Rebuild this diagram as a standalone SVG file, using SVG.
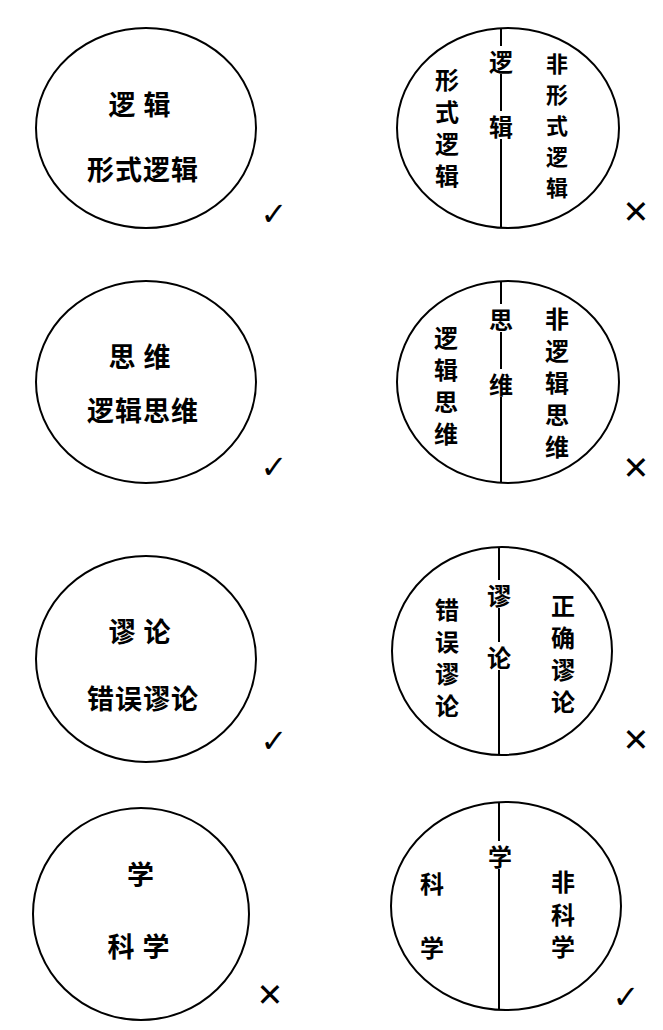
<svg xmlns="http://www.w3.org/2000/svg" width="663" height="1030" viewBox="0 0 663 1030">
<style>
.c{fill:none;stroke:#000;stroke-width:2}
.l{stroke:#000;stroke-width:2}
text{font-family:"Noto Sans CJK SC",sans-serif;font-weight:bold;font-size:24px;text-anchor:middle;dominant-baseline:central;fill:#000}
.s{font-size:22px}
.h{font-size:27px;letter-spacing:1px}
.m{font-family:"DejaVu Sans",sans-serif;font-weight:bold;font-size:32px}
.bg{fill:#fff}
</style>
<rect width="663" height="1030" fill="#fff"/>
<g id="n1"><ellipse class="c" cx="146" cy="128" rx="110" ry="100"/><text class="h" x="140" y="103">逻  辑</text><text class="h" x="143" y="168">形式逻辑</text><text class="m" x="274" y="214">✓</text></g>
<g id="n2"><ellipse class="c" cx="146" cy="382" rx="110" ry="101"/><text class="h" x="140" y="355">思  维</text><text class="h" x="143" y="409">逻辑思维</text><text class="m" x="274" y="467">✓</text></g>
<g id="n3"><ellipse class="c" cx="146" cy="659" rx="110" ry="103"/><text class="h" x="140" y="630">谬  论</text><text class="h" x="143" y="697">错误谬论</text><text class="m" x="274" y="741">✓</text></g>
<g id="n4"><ellipse class="c" cx="141" cy="914" rx="108" ry="106"/><text class="h" x="141" y="873">学</text><text class="h" x="139" y="945">科  学</text><text class="m" x="270" y="995">✕</text></g>
<g id="connectors">
<line class="l" x1="501" y1="28" x2="501" y2="228"/>
<line class="l" x1="501" y1="281" x2="501" y2="483"/>
<line class="l" x1="499" y1="548" x2="499" y2="755"/>
<line class="l" x1="499" y1="802" x2="499" y2="1010"/>
</g>
<g id="r1"><ellipse class="c" cx="508" cy="128" rx="111" ry="100"/>
<rect class="bg" x="489" y="46" width="24" height="28"/><rect class="bg" x="489" y="111" width="24" height="28"/>
<text x="501" y="60">逻</text><text x="501" y="125">辑</text>
<text x="447" y="78">形</text><text x="447" y="110">式</text><text x="447" y="142">逻</text><text x="447" y="174">辑</text>
<text class="s" x="557" y="62">非</text><text class="s" x="557" y="93">形</text><text class="s" x="557" y="124">式</text><text class="s" x="557" y="155">逻</text><text class="s" x="557" y="186">辑</text>
<text class="m" x="636" y="212">✕</text></g>
<g id="r2"><ellipse class="c" cx="508" cy="382" rx="111" ry="101"/>
<rect class="bg" x="489" y="304" width="24" height="28"/><rect class="bg" x="489" y="369" width="24" height="28"/>
<text x="501" y="318">思</text><text x="501" y="383">维</text>
<text x="446" y="336">逻</text><text x="446" y="368">辑</text><text x="446" y="400">思</text><text x="446" y="432">维</text>
<text x="557" y="317">非</text><text x="557" y="349">逻</text><text x="557" y="381">辑</text><text x="557" y="413">思</text><text x="557" y="445">维</text>
<text class="m" x="636" y="468">✕</text></g>
<g id="r3"><ellipse class="c" cx="502" cy="651" rx="110" ry="104"/>
<rect class="bg" x="487" y="580" width="24" height="28"/><rect class="bg" x="487" y="642" width="24" height="28"/>
<text x="499" y="594">谬</text><text x="499" y="656">论</text>
<text x="447" y="608">错</text><text x="447" y="640">误</text><text x="447" y="672">谬</text><text x="447" y="704">论</text>
<text x="563" y="604">正</text><text x="563" y="636">确</text><text x="563" y="668">谬</text><text x="563" y="700">论</text>
<text class="m" x="636" y="740">✕</text></g>
<g id="r4"><ellipse class="c" cx="506" cy="906" rx="115" ry="104"/>
<rect class="bg" x="487" y="841" width="24" height="28"/>
<text x="500" y="855">学</text>
<text x="432" y="882">科</text><text x="432" y="946">学</text>
<text x="563" y="880">非</text><text x="563" y="913">科</text><text x="563" y="945">学</text>
<text class="m" x="626" y="997">✓</text></g>
</svg>
